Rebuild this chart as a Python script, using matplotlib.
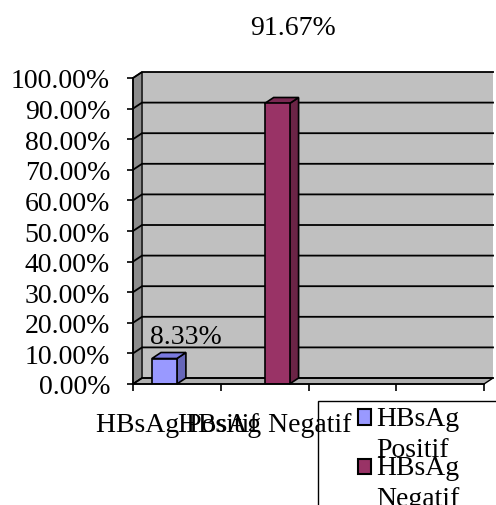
import matplotlib
matplotlib.use("Agg")
import matplotlib.pyplot as plt  # noqa: E402
from matplotlib.patches import Polygon, Patch, Rectangle  # noqa: E402
from matplotlib.legend_handler import HandlerPatch  # noqa: E402

categories = ["HBsAg Positif", "HBsAg Negatif"]
values = [8.33, 91.67]
legend_labels = ["HBsAg\nPositif", "HBsAg\nNegatif"]
y_ticks = [0, 10, 20, 30, 40, 50, 60, 70, 80, 90, 100]

FRONT = ["#9999FF", "#993366"]
SIDE = ["#6666B8", "#6B2446"]
TOP = ["#7A7AE0", "#7A2952"]
WALL = "#C0C0C0"
LEFT_WALL = "#8C8C8C"
FLOOR = "#B0B0B0"

plt.rcParams["font.family"] = ["Liberation Serif", "DejaVu Serif"]
FS = 20

N_SLOTS = 4          # Excel leaves empty category slots on the axis
DX, DY = 0.103, 1.96  # 3-D depth offset in data units
BAR_W = 0.284
# label offsets in points (Excel placed them by hand)
label_offsets = [(15.5, 16), (11.5, 55)]

fig = plt.figure(figsize=(4.96, 5.06), dpi=100)
ax = fig.add_axes([133 / 496, 121 / 506, 351 / 496, 306 / 506])
ax.set_xlim(0, N_SLOTS)
ax.set_ylim(0, 100)
ax.patch.set_visible(False)

# walls
ax.add_patch(Polygon([(DX, DY), (N_SLOTS + DX, DY), (N_SLOTS + DX, 100 + DY), (DX, 100 + DY)],
                     closed=True, fc=WALL, ec="none", zorder=0, clip_on=False))
ax.add_patch(Polygon([(0, 0), (DX, DY), (DX, 100 + DY), (0, 100)],
                     closed=True, fc=LEFT_WALL, ec="black", lw=1, zorder=1, clip_on=False))
ax.add_patch(Polygon([(0, 0), (N_SLOTS, 0), (N_SLOTS + DX, DY), (DX, DY)],
                     closed=True, fc=FLOOR, ec="black", lw=1, zorder=1, clip_on=False))

# gridlines on back wall and left wall
for t in y_ticks:
    ax.plot([0, DX, N_SLOTS + DX], [t, t + DY, t + DY], color="black", lw=1.3,
            zorder=2, clip_on=False, solid_joinstyle="miter")

# 3-D bars
for j, v in enumerate(values):
    left = j + 0.5 - BAR_W + j * BAR_W
    ax.bar(left, v, width=BAR_W, align="edge", color=FRONT[j], edgecolor="black",
           linewidth=1.2, zorder=4)
    right = left + BAR_W
    ax.add_patch(Polygon([(right, 0), (right + DX, DY), (right + DX, v + DY), (right, v)],
                         closed=True, fc=SIDE[j], ec="black", lw=1.2, zorder=3, clip_on=False))
    ax.add_patch(Polygon([(left, v), (right, v), (right + DX, v + DY), (left + DX, v + DY)],
                         closed=True, fc=TOP[j], ec="black", lw=1.2, zorder=3, clip_on=False))
    ax.annotate(f"{v:.2f}%", xy=(left + BAR_W / 2, v), xytext=label_offsets[j],
                textcoords="offset points", ha="center", va="center", fontsize=FS,
                zorder=1.5, annotation_clip=False)

# axes styling
for s in ["top", "right"]:
    ax.spines[s].set_visible(False)
for s in ["left", "bottom"]:
    ax.spines[s].set_linewidth(1.2)
    ax.spines[s].set_zorder(5)

ax.set_yticks(y_ticks)
ax.set_yticklabels([f"{t:.2f}%" for t in y_ticks], fontsize=FS)
ax.tick_params(axis="y", length=4.5, width=1.2, pad=12)

ax.set_xticks(range(N_SLOTS + 1))
ax.set_xticklabels([])
ax.tick_params(axis="x", which="major", length=5, width=1.2)
ax.set_xticks([i + 0.5 for i in range(len(categories))], minor=True)
ax.set_xticklabels(categories, minor=True, fontsize=FS)
ax.tick_params(axis="x", which="minor", length=0, pad=20)


def first_line_square(legend, orig_handle, xdescent, ydescent, width, height, fontsize):
    # Excel puts the key next to the first line of a wrapped label
    return Rectangle((-xdescent, 13.5), width, 11)


handles = [Patch(fc=FRONT[j], ec="black", lw=1.5) for j in range(len(values))]
leg = fig.legend(handles, legend_labels, loc="upper left",
                 bbox_to_anchor=(358 / 496, 1 - 407 / 506), frameon=False,
                 fontsize=FS, handlelength=0.47, handleheight=0.55, handletextpad=0.2,
                 borderpad=0, borderaxespad=0, labelspacing=-0.23,
                 handler_map={Patch: HandlerPatch(patch_func=first_line_square)})
for t in leg.get_texts():
    t.set_linespacing(1.3)

# legend frame (clipped by the figure edge in the original)
fig.add_artist(Rectangle((318 / 496, -0.1), 0.5, (506 - 402) / 506 + 0.1,
                         transform=fig.transFigure, fill=False, ec="black", lw=1))

fig.savefig("out.png", dpi=100)
plt.close(fig)
